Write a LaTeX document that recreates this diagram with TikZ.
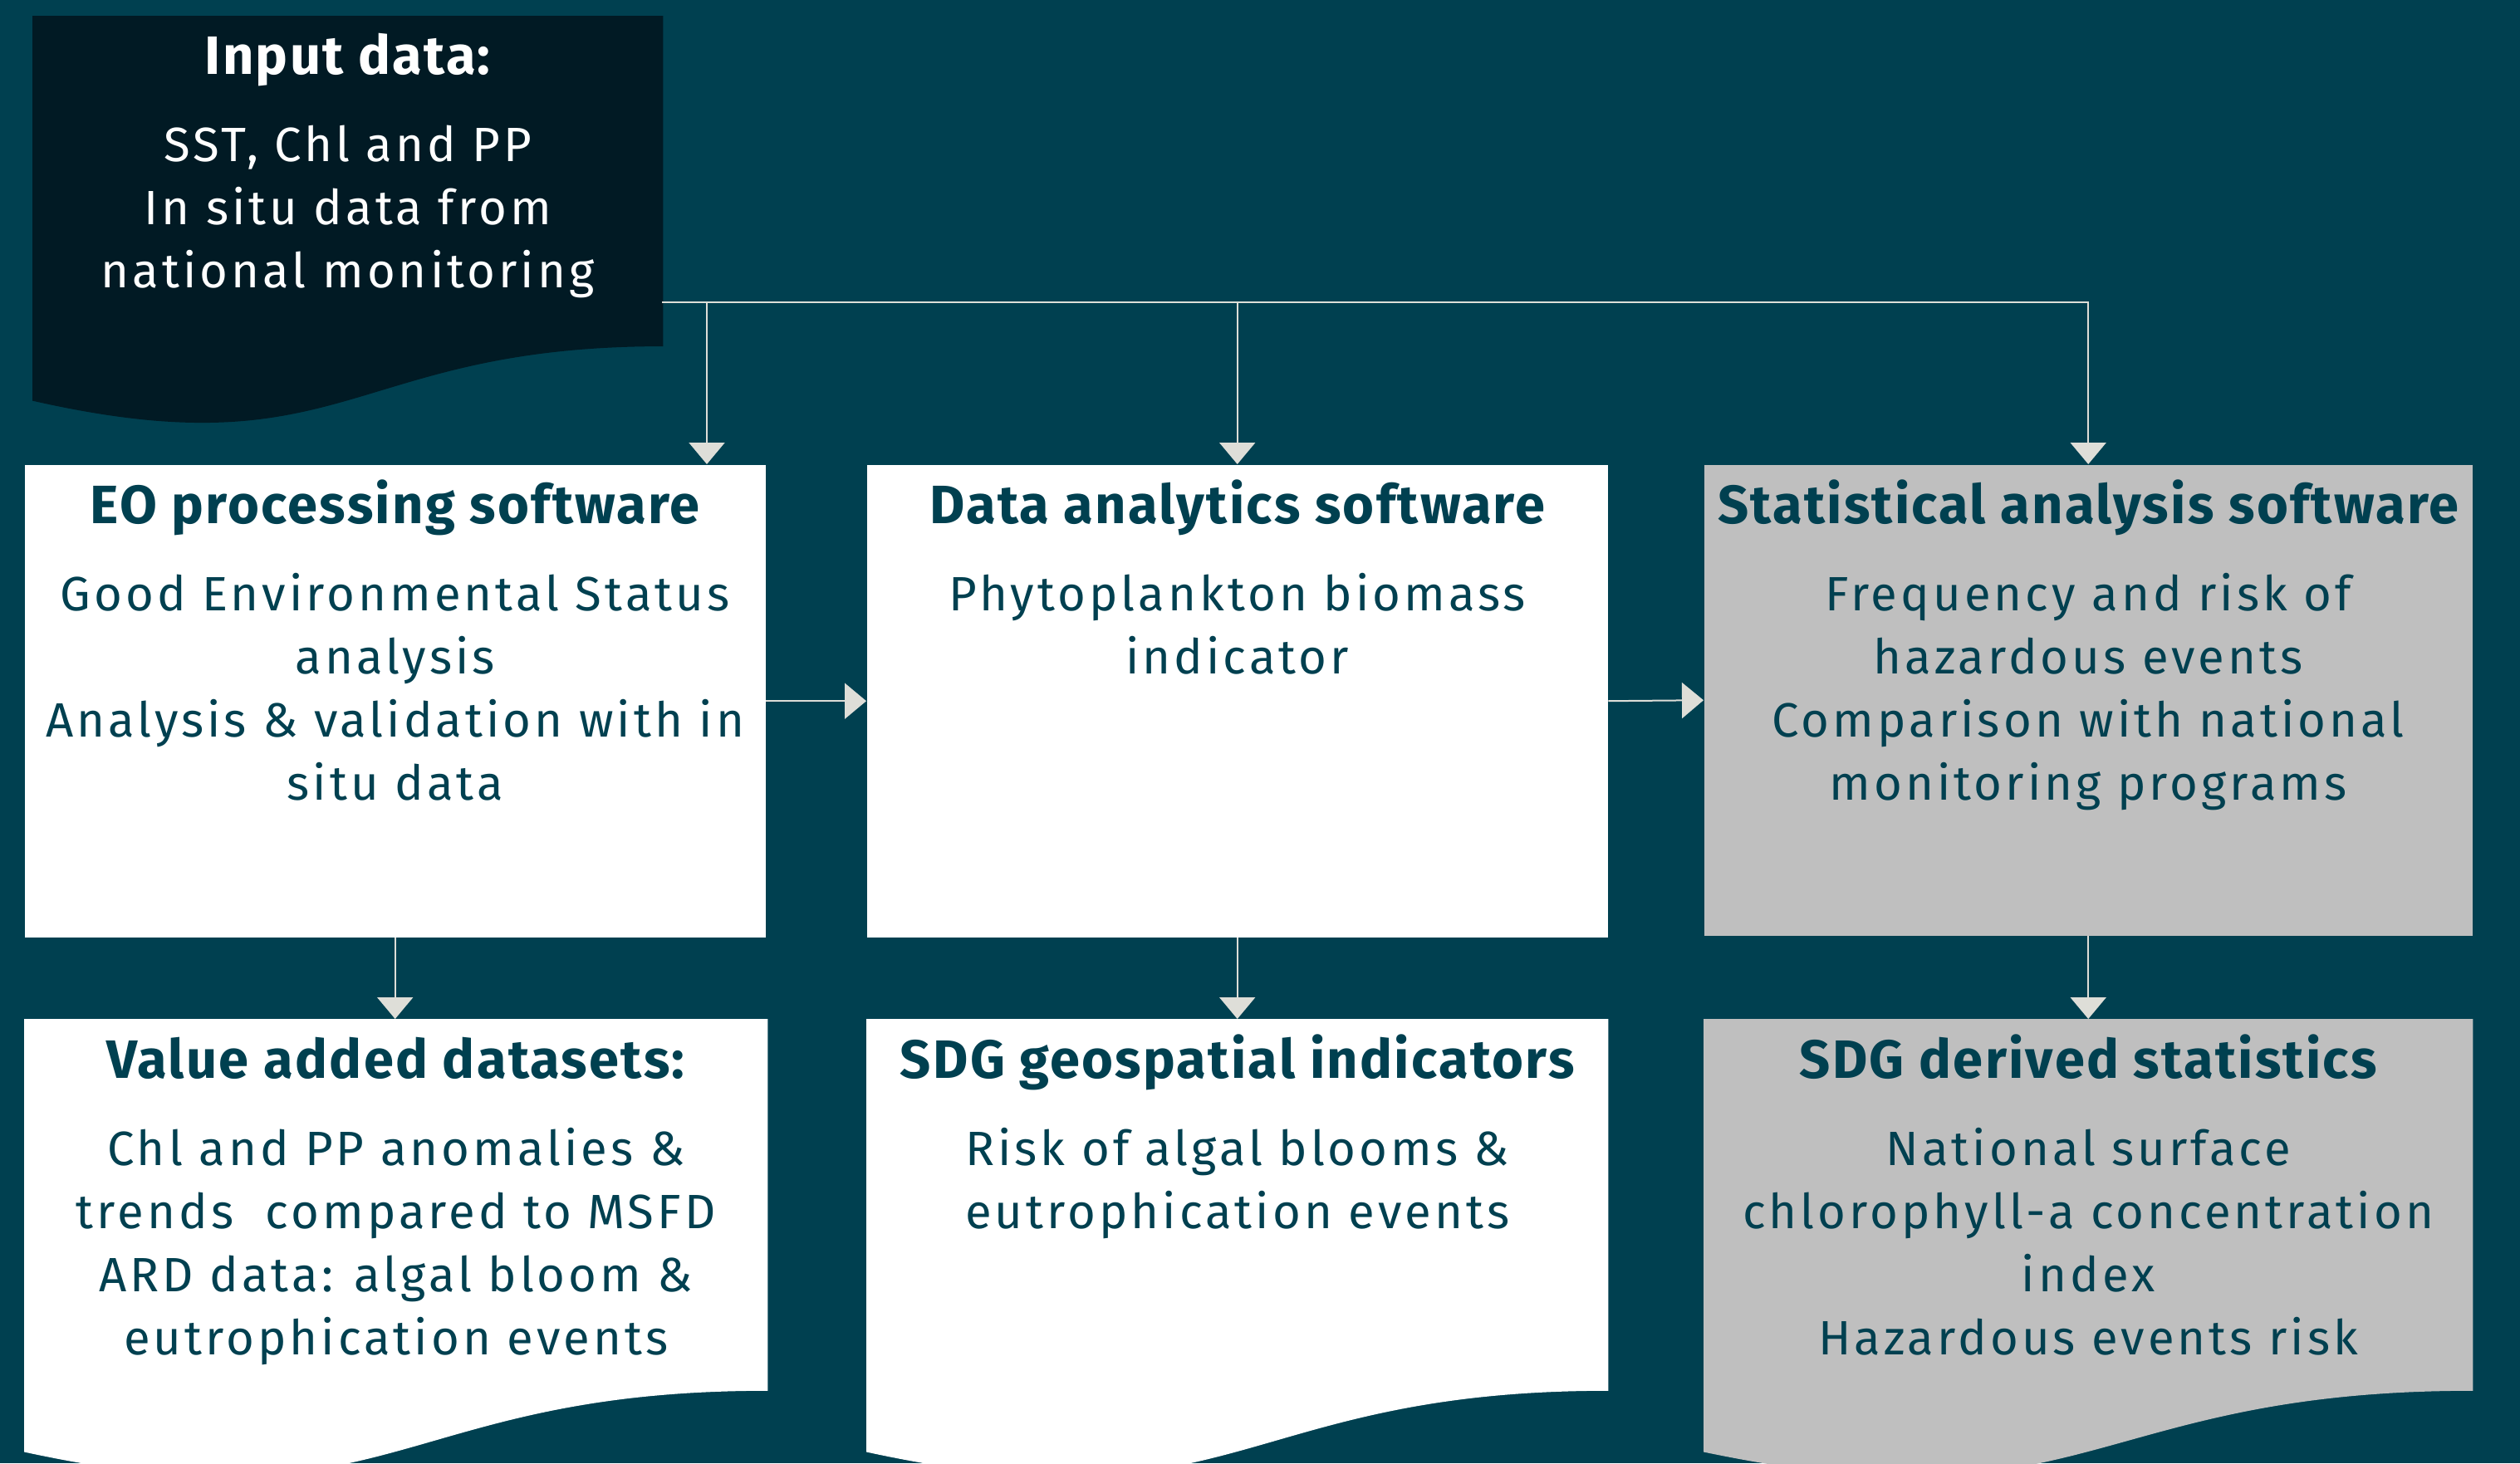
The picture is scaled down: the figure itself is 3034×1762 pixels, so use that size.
\documentclass[tikz,border=0pt]{standalone}
\usepackage{fontspec}
\setmainfont{Fira Sans}
\newfontfamily\bodyfont[LetterSpace=7]{Fira Sans}
\newfontfamily\headfont[LetterSpace=3.5]{Fira Sans}
\usetikzlibrary{positioning}
\usetikzlibrary{calc}
\usetikzlibrary{arrows.meta}

\definecolor{deepsea}{RGB}{0,64,80}
\definecolor{inkblue}{RGB}{1,26,36}
\definecolor{paleline}{RGB}{222,222,216}
\definecolor{softgray}{RGB}{191,191,191}

% flowchart "document" outline over the corners of a named node
\newcommand{\docshape}[2]{%
	\fill[#2] (#1.north west) -- (#1.north east)
		-- ($(#1.north east)!0.8019!(#1.south east)$)
		.. controls ($(#1.north)!0.8019!(#1.south)$) and ($(#1.north)!1.1075!(#1.south)$)
		.. ($(#1.north west)!0.9339!(#1.south west)$) -- cycle;}

\begin{document}
\begin{tikzpicture}[x=0.1mm,y=-0.1mm]

\tikzstyle{box}=[rectangle,inner sep=0pt,anchor=north west]
\tikzstyle{title}=[anchor=base,inner sep=0pt,text=deepsea,
	font=\fontsize{18.5}{22}\headfont\bfseries]
\tikzstyle{body}=[anchor=north,inner sep=0pt,align=center,text=deepsea,
	font=\fontsize{16.5}{21.6}\bodyfont]
\tikzstyle{flow}=[draw=paleline,line width=0.2mm,
	-{Triangle[width=4.3mm,length=2.6mm,fill=paleline]}]

\def\RowA{559}
\def\RowB{1227}

% Background
\fill[deepsea] (0,0) rectangle (3034,1762);
\useasboundingbox (0,0) rectangle (3034,1762);
\clip (0,0) rectangle (3034,1762);

% input document
\node[box,minimum width=75.8mm,minimum height=49.5mm] (input) at (39,19) {};
\docshape{input}{inkblue}

% software row
\node[box,fill=white,minimum width=89.2mm,minimum height=56.9mm] (eo) at (29,\RowA) {};
\node[box,fill=white,minimum width=89.2mm,minimum height=56.9mm] (analytics) at (1043,\RowA) {};
\node[box,fill=softgray,minimum width=92.5mm,minimum height=56.7mm] (stat) at (2051,\RowA) {};

% output documents
\node[box,minimum width=89.4mm,minimum height=55.7mm] (datasets) at (29,\RowB) {};
\node[box,minimum width=89.2mm,minimum height=55.7mm] (geo) at (1043,\RowB) {};
\node[box,minimum width=92.5mm,minimum height=55.7mm] (derived) at (2051,\RowB) {};
\docshape{datasets}{white}
\docshape{geo}{white}
\docshape{derived}{softgray}

% connectors
\coordinate (bus) at (797,364);
\coordinate (eoin) at (851,\RowA);
\draw[flow] (bus) -| (eoin);
\draw[flow] (bus) -| (analytics.north);
\draw[flow] (bus) -| (stat.north);

\draw[flow] (eo.east) -- (analytics.west);
\draw[flow] (analytics.east) -- (stat.west);

\draw[flow] (eo.south) -- (eo.south |- datasets.north);
\draw[flow] (analytics.south) -- (geo.north);
\draw[flow] (stat.south) -- (derived.north);

% labels
\node[title,text=white] (input-title) at ([yshift=-7.1mm]input.north) {Input data:};
\node[body,text=white] (input-text) at ([yshift=-13.1mm]input.north)
	{SST, Chl and PP\\In situ data from\\national monitoring};

\node[title] (eo-title) at ([yshift=-7.1mm]eo.north) {EO processing software};
\node[body] (eo-text) at ([yshift=-13.1mm]eo.north)
	{Good Environmental Status\\analysis\\Analysis \& validation with in\\situ data};

\node[title] (analytics-title) at ([yshift=-7.1mm]analytics.north) {Data analytics software};
\node[body] (analytics-text) at ([yshift=-13.1mm]analytics.north)
	{Phytoplankton biomass\\indicator};

\node[title] (stat-title) at ([yshift=-7.1mm]stat.north) {Statistical analysis software};
\node[body] (stat-text) at ([yshift=-13.1mm]stat.north)
	{Frequency and risk of\\hazardous events\\Comparison with national\\monitoring programs};

\node[title] (datasets-title) at ([yshift=-7.1mm]datasets.north) {Value added datasets:};
\node[body] (datasets-text) at ([yshift=-13.1mm]datasets.north)
	{Chl and PP anomalies \&\\trends~ compared to MSFD\\ARD data: algal bloom \&\\eutrophication events};

\node[title] (geo-title) at ([yshift=-7.1mm]geo.north) {SDG geospatial indicators};
\node[body] (geo-text) at ([yshift=-13.1mm]geo.north)
	{Risk of algal blooms \&\\eutrophication events};

\node[title] (derived-title) at ([yshift=-7.1mm]derived.north) {SDG derived statistics};
\node[body] (derived-text) at ([yshift=-13.1mm]derived.north)
	{National surface\\chlorophyll-a concentration\\index\\Hazardous events risk};

\end{tikzpicture}
\end{document}
